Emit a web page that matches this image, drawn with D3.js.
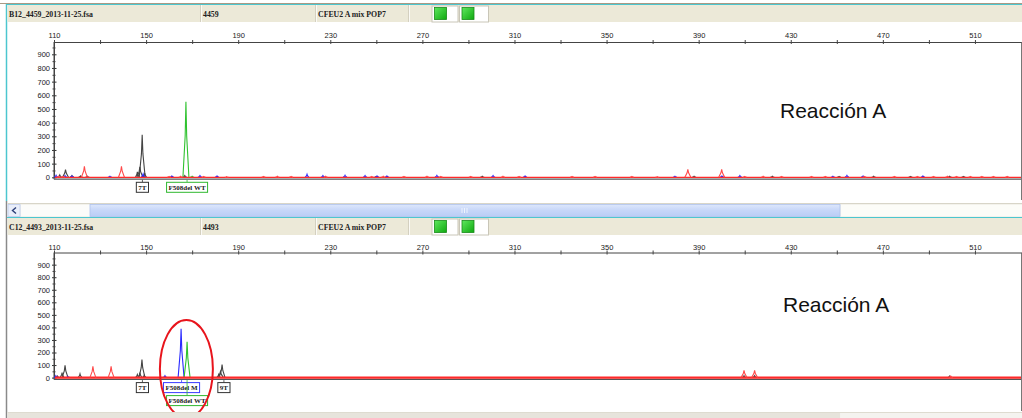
<!DOCTYPE html>
<html>
<head>
<meta charset="utf-8">
<script src="https://cdn.jsdelivr.net/npm/d3@7"></script>
<style>
  body { margin: 0; background: #fff; }
  svg { display: block; }
</style>
</head>
<body>
<div id="chart"></div>
<script>

// axis ticks
var sizeTicks = [110, 150, 190, 230, 270, 310, 350, 390, 430, 470, 510];
var sizeMinorTicks = [130, 170, 210, 250, 290, 330, 370, 410, 450, 490];
var rfuTicks = [0, 100, 200, 300, 400, 500, 600, 700, 800, 900];
var rfuMinorTicks = [50, 150, 250, 350, 450, 550, 650, 750, 850, 950];

// header texts
var fileNames = ["B12_4459_2013-11-25.fsa", "C12_4493_2013-11-25.fsa"];
var sampleNames = ["4459", "4493"];
var panelNames = ["CFEU2 A mix POP7", "CFEU2 A mix POP7"];
var reactionLabels = ["Reacción A", "Reacción A"];

// peaks: [size (bp), height (RFU)]
var blackPeaksA = [[112.5, 18], [115.0, 57], [117.8, 12], [121.5, 10], [124.5, 8], [146.2, 40], [147.3, 76],
  [148.3, 311], [149.4, 30], [166.8, 12], [250, 6], [296, 8], [388, 8], [422, 8], [451, 6], [466, 8],
  [482, 6], [499, 8], [505, 6]];
var redPeaksA = [[123.2, 81], [139.3, 81], [385.3, 59], [400.0, 59],
  [112, 8], [114, 6], [160, 6], [165, 8], [175, 6], [185, 5], [201, 6], [207, 8], [213, 6], [228, 7],
  [248, 6], [253, 8], [262, 6], [272, 7], [278, 6], [291, 6], [305, 8], [312, 6], [335, 6], [345, 6],
  [361, 6], [372, 5], [410, 6], [418, 7], [426, 6], [439, 6], [445, 6], [462, 6], [475, 6], [485, 6],
  [492, 6], [498, 7], [502, 6], [508, 6], [513, 6], [518, 6], [524, 6]];
var bluePeaksA = [[110.9, 15], [114.8, 12], [117.8, 10], [134.3, 8], [148.7, 25], [161.2, 10], [173.4, 12],
  [180.8, 10], [219.9, 22], [226.8, 12], [236.4, 15], [245.1, 12], [250.3, 10], [254.6, 10], [276.3, 14],
  [300.7, 12], [314.6, 10], [379.7, 8], [400.1, 10], [407.9, 12], [448.3, 8], [454.4, 14], [461.4, 10],
  [487.4, 10]];
var greenPeaksA = [[167.3, 553], [170.0, 8]];

var blackPeaksB = [[111.5, 12], [113.5, 40], [114.8, 98], [121.3, 30], [146.2, 25], [147.3, 40], [148.2, 143],
  [149.2, 20], [181.5, 25], [182.3, 50], [183.0, 103], [409.7, 15], [414.3, 15], [499, 12]];
var redPeaksB = [[126.9, 90], [134.8, 90], [409.7, 58], [414.3, 58], [499.5, 12]];
var bluePeaksB = [[110.8, 15], [116.0, 10], [158.2, 15], [165.2, 389]];
var greenPeaksB = [[167.8, 286]];

// allele calls: [label, size (bp), dye]
var allelesA = [["7T", 148.4, "black"], ["F508del WT", 167.8, "green"]];
var allelesB = [["7T", 148.4, "black"], ["F508del M", 165.4, "blue"], ["9T", 183.8, "black"], ["F508del WT", 167.8, "green"]];

var svgWidth = 1022;
var svgHeight = 418;

var dyeColor = { black: "#444", blue: "#2a2aff", green: "#2fc22f", red: "#ff4a4a" };
var boxColor = { black: "#333", blue: "#3b3bff", green: "#2fb82f" };

var svg = d3.select("#chart").append("svg")
  .attr("width", svgWidth)
  .attr("height", svgHeight)
  .style("font-family", "'Liberation Sans', Arial, sans-serif");

var defs = svg.append("defs");
var thumbGrad = defs.append("linearGradient").attr("id", "thumb").attr("x1", 0).attr("y1", 0).attr("x2", 0).attr("y2", 1);
thumbGrad.append("stop").attr("offset", "0%").attr("stop-color", "#dde7fc");
thumbGrad.append("stop").attr("offset", "50%").attr("stop-color", "#c6d6f8");
thumbGrad.append("stop").attr("offset", "100%").attr("stop-color", "#b9cdf6");
var greenGrad = defs.append("linearGradient").attr("id", "led").attr("x1", 0).attr("y1", 0).attr("x2", 1).attr("y2", 1);
greenGrad.append("stop").attr("offset", "0%").attr("stop-color", "#5fe85f");
greenGrad.append("stop").attr("offset", "100%").attr("stop-color", "#0fa80f");

// shared size scale
var x = d3.scaleLinear().domain([110, 530]).range([54, 1021]);

var panels = [
  { headerY: 5, axisY: 42, y0: 177.3, rfuMax: 990, frameBottom: 200, labelY: 37.5,
    black: blackPeaksA, red: redPeaksA, blue: bluePeaksA, green: greenPeaksA, alleles: allelesA,
    reactX: 780, reactY: 118, redWidth: 1.2 },
  { headerY: 218, axisY: 252.5, y0: 377.6, rfuMax: 997, frameBottom: 411, labelY: 249.5,
    black: blackPeaksB, red: redPeaksB, blue: bluePeaksB, green: greenPeaksB, alleles: allelesB,
    reactX: 783, reactY: 312, redWidth: 2.2 }
];

// page frame
svg.append("rect").attr("x", 0).attr("y", 0).attr("width", svgWidth).attr("height", svgHeight).attr("fill", "#fff");
svg.append("line").attr("x1", 0).attr("x2", svgWidth).attr("y1", 3.5).attr("y2", 3.5).attr("stroke", "#a99a84");
svg.append("line").attr("x1", 6.5).attr("x2", 6.5).attr("y1", 4).attr("y2", 201).attr("stroke", "#4cc6cf").attr("stroke-width", 1.5);
svg.append("line").attr("x1", 6.5).attr("x2", 6.5).attr("y1", 201).attr("y2", svgHeight).attr("stroke", "#8a8a8a").attr("stroke-width", 1.5);

function drawHeader(p, i) {
  var hy = p.headerY;
  var g = svg.append("g");
  g.append("line").attr("x1", 7).attr("x2", svgWidth).attr("y1", hy - 0.5).attr("y2", hy - 0.5)
    .attr("stroke", "#4cc6cf").attr("stroke-width", 1.2);
  g.append("rect").attr("x", 7.5).attr("y", hy).attr("width", svgWidth - 7.5).attr("height", 17).attr("fill", "#ece9d8");
  [200, 315, 408].forEach(function(dx) {
    g.append("line").attr("x1", dx + 0.5).attr("x2", dx + 0.5).attr("y1", hy).attr("y2", hy + 17)
      .attr("stroke", "#d4d0c0");
    g.append("line").attr("x1", dx + 1.5).attr("x2", dx + 1.5).attr("y1", hy).attr("y2", hy + 17)
      .attr("stroke", "#fbfaf5");
  });
  var hdr = [[9, fileNames[i]], [203, sampleNames[i]], [318, panelNames[i]]];
  hdr.forEach(function(h) {
    g.append("text").attr("x", h[0]).attr("y", hy + 11.5).text(h[1])
      .attr("font-family", "'Liberation Serif', 'Times New Roman', serif")
      .attr("font-weight", "bold").attr("font-size", "7.8px").attr("fill", "#222");
  });
  [[432, 26, 434.5], [459.5, 29, 462]].forEach(function(b) {
    g.append("rect").attr("x", b[0]).attr("y", hy + 1).attr("width", b[1]).attr("height", 16)
      .attr("fill", "#fff").attr("stroke", "#c9c6b8");
    g.append("rect").attr("x", b[2]).attr("y", hy + 2.5).attr("width", 12).attr("height", 12)
      .attr("fill", "url(#led)").attr("stroke", "#1a8a1a").attr("stroke-width", 0.8);
  });
}

function peakPath(y, d, halfW) {
  return "M" + x(d[0] - halfW) + "," + y(0) +
    "L" + x(d[0] - halfW * 0.25) + "," + y(d[1] * 0.55) +
    "L" + x(d[0]) + "," + y(d[1]) +
    "L" + x(d[0] + halfW * 0.25) + "," + y(d[1] * 0.55) +
    "L" + x(d[0] + halfW) + "," + y(0);
}

function drawPanel(p, i) {
  drawHeader(p, i);

  var y = d3.scaleLinear().domain([0, p.rfuMax]).range([p.y0, p.axisY]);
  var g = svg.append("g");

  // right border
  g.append("line").attr("x1", 1021.5).attr("x2", 1021.5).attr("y1", p.axisY).attr("y2", p.frameBottom)
    .attr("stroke", "#777");

  // top size axis
  var topAxis = g.append("g").attr("transform", "translate(0," + p.axisY + ")")
    .call(d3.axisTop(x).tickValues(sizeTicks).tickSize(2).tickSizeOuter(0));
  g.append("g").attr("transform", "translate(0," + p.axisY + ")")
    .call(d3.axisTop(x).tickValues(sizeMinorTicks).tickSize(2).tickSizeOuter(0).tickFormat(""))
    .call(function(a) { a.select(".domain").remove(); a.selectAll("line").attr("y2", -2).attr("y1", 2).attr("stroke", "#444"); });
  topAxis.select(".domain").attr("stroke", "#444");
  topAxis.selectAll(".tick line").attr("y1", 2).attr("y2", -2).attr("stroke", "#444");
  topAxis.selectAll(".tick text").attr("y", p.labelY - p.axisY).attr("dy", 0)
    .attr("font-size", "7.5px").attr("fill", "#222").attr("font-family", "'Liberation Sans', Arial, sans-serif");

  // left rfu axis
  var leftAxis = g.append("g").attr("transform", "translate(54,0)")
    .call(d3.axisLeft(y).tickValues(rfuTicks).tickSize(2).tickSizeOuter(0));
  leftAxis.select(".domain").attr("stroke", "#444");
  leftAxis.selectAll(".tick line").attr("x1", 2.5).attr("x2", -2).attr("stroke", "#333");
  leftAxis.selectAll(".tick text").attr("x", -4).attr("font-size", "7.5px").attr("fill", "#222")
    .attr("font-family", "'Liberation Sans', Arial, sans-serif");
  g.append("g").attr("transform", "translate(54,0)")
    .call(d3.axisLeft(y).tickValues(rfuMinorTicks).tickSize(1.5).tickSizeOuter(0).tickFormat(""))
    .call(function(a) { a.select(".domain").remove(); a.selectAll("line").attr("x1", 1.5).attr("stroke", "#444"); });
  g.append("line").attr("x1", 54).attr("x2", 54).attr("y1", p.axisY).attr("y2", p.y0 + 2).attr("stroke", "#444");

  // bottom axis line
  g.append("line").attr("x1", 54).attr("x2", 1021).attr("y1", p.y0 + 1.8).attr("y2", p.y0 + 1.8)
    .attr("stroke", "#555").attr("stroke-width", 1.2);

  // peaks
  ["black", "blue", "green"].forEach(function(dye) {
    g.selectAll(".pk-" + dye).data(p[dye]).enter().append("path")
      .attr("d", function(d) { return peakPath(y, d, d[1] > 40 ? 1.3 : 0.8); })
      .attr("fill", "none").attr("stroke", dyeColor[dye]).attr("stroke-width", 1.1);
  });
  g.append("line").attr("x1", 55).attr("x2", 1021).attr("y1", y(0)).attr("y2", y(0))
    .attr("stroke", "#ff2a2a").attr("stroke-width", p.redWidth);
  g.selectAll(".pk-red").data(p.red).enter().append("path")
    .attr("d", function(d) { return peakPath(y, d, d[1] > 40 ? 1.3 : 0.8); })
    .attr("fill", "none").attr("stroke", dyeColor.red).attr("stroke-width", 1.1);

  // allele labels
  var placed = [];
  p.alleles.forEach(function(a) {
    var cx = x(a[1]);
    var link = g.append("line");
    var box = g.append("rect");
    var t = g.append("text").text(a[0])
      .attr("font-family", "'Liberation Serif', 'Times New Roman', serif")
      .attr("font-weight", "bold").attr("font-size", "7px").attr("fill", "#222")
      .attr("text-anchor", "middle");
    var w = t.node().getComputedTextLength() + 4;
    var row = 0;
    placed.forEach(function(b) {
      if (cx - w / 2 < b.x1 + 2 && cx + w / 2 > b.x0 - 2) row = Math.max(row, b.row + 1);
    });
    var by = p.y0 + 5 + row * 13;
    placed.push({ x0: cx - w / 2, x1: cx + w / 2, row: row });
    link.attr("x1", cx).attr("x2", cx).attr("y1", p.y0 + 2.5).attr("y2", by)
      .attr("stroke", boxColor[a[2]]).attr("stroke-width", 0.8);
    box.attr("x", cx - w / 2).attr("y", by).attr("width", w).attr("height", 10)
      .attr("fill", "#fff").attr("stroke", boxColor[a[2]]).attr("stroke-width", 1);
    t.attr("x", cx).attr("y", by + 7.8);
  });

  g.append("text").attr("x", p.reactX).attr("y", p.reactY).text(reactionLabels[i])
    .attr("font-size", "21px").attr("fill", "#111");
}

panels.forEach(drawPanel);

// highlight around F508del peaks in the second run
svg.append("ellipse").attr("cx", x(167.5)).attr("cy", 369).attr("rx", 26.5).attr("ry", 49)
  .attr("fill", "none").attr("stroke", "#e8141c").attr("stroke-width", 2);

// scrollbar between the runs
var sb = svg.append("g");
sb.append("rect").attr("x", 7.5).attr("y", 203).attr("width", svgWidth - 7.5).attr("height", 14).attr("fill", "#f3f2ec");
sb.append("line").attr("x1", 7.5).attr("x2", svgWidth).attr("y1", 203.5).attr("y2", 203.5).attr("stroke", "#d8d5c8");
sb.append("rect").attr("x", 8).attr("y", 204.5).attr("width", 12).attr("height", 12).attr("fill", "#e9eefa").attr("stroke", "#c6d2ee");
sb.append("path").attr("d", "M16,207.5 L12.5,210.5 L16,213.5").attr("fill", "none").attr("stroke", "#2c3e78").attr("stroke-width", 1.4);
sb.append("rect").attr("x", 21).attr("y", 205).attr("width", 69).attr("height", 11).attr("fill", "#fcfcfa");
sb.append("rect").attr("x", 90).attr("y", 204.5).attr("width", 750).attr("height", 12).attr("fill", "url(#thumb)")
  .attr("stroke", "#aec2ee").attr("stroke-width", 0.8);
[462, 464.5, 467].forEach(function(gx) {
  sb.append("line").attr("x1", gx).attr("x2", gx).attr("y1", 208).attr("y2", 213).attr("stroke", "#eef3fd");
});
sb.append("rect").attr("x", 841).attr("y", 205).attr("width", svgWidth - 841).attr("height", 11).attr("fill", "#fcfcf8");

// bottom scrollbar edge
svg.append("rect").attr("x", 7.5).attr("y", 413).attr("width", 833).attr("height", 5).attr("fill", "#e7e4dc");
svg.append("rect").attr("x", 840.5).attr("y", 413).attr("width", svgWidth - 840.5).attr("height", 5).attr("fill", "#f4f3ef");
svg.append("line").attr("x1", 7.5).attr("x2", svgWidth).attr("y1", 412.5).attr("y2", 412.5).attr("stroke", "#dedbd0");

</script>
</body>
</html>
